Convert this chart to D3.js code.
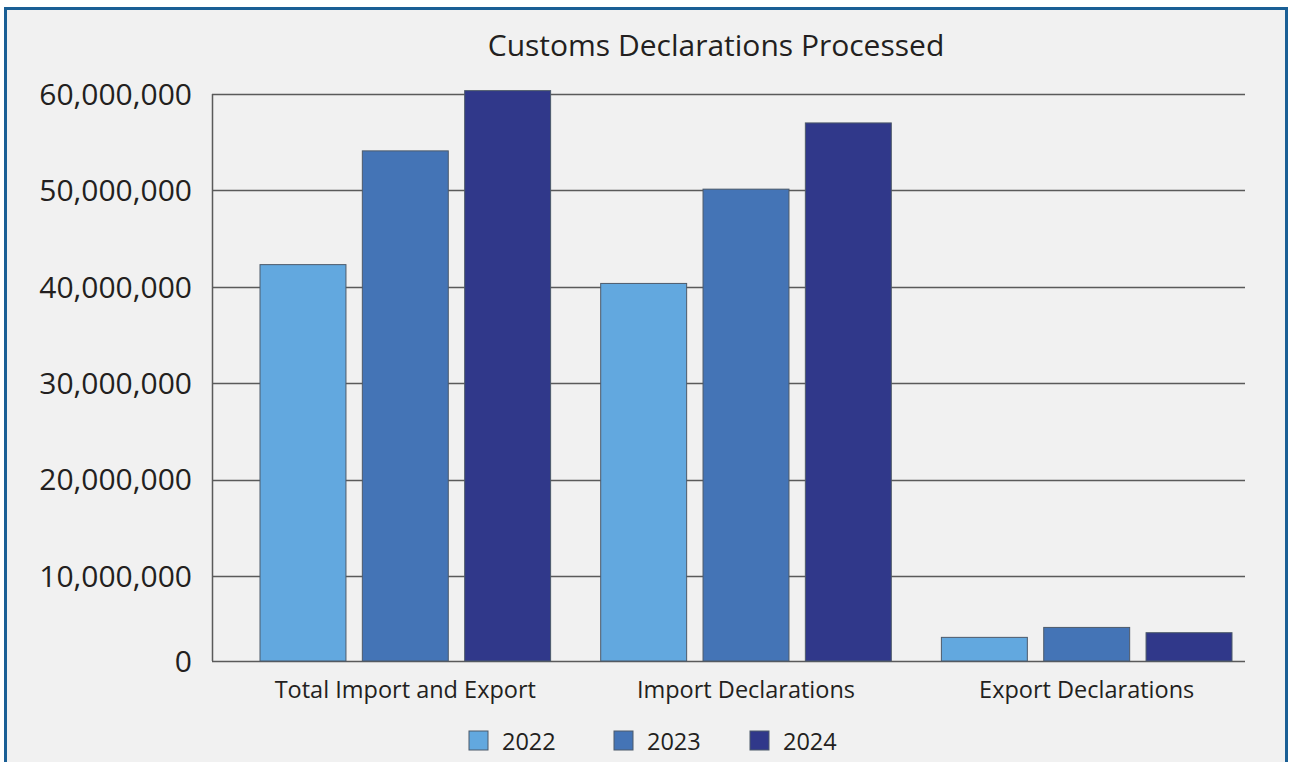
<!DOCTYPE html>
<html>
<head>
<meta charset="utf-8">
<script src="https://cdn.jsdelivr.net/npm/d3@7"></script>
<style>
  body { margin: 0; background: #fff; }
  text { font-family: "Open Sans", "Noto Sans", sans-serif; fill: #231f20; }
</style>
</head>
<body>
<div id="chart"></div>
<script>
// categories and series
var categories = ["Total Import and Export", "Import Declarations", "Export Declarations"];
var years = ["2022", "2023", "2024"];
var values2022 = [42300000, 40350000, 2780000];
var values2023 = [54100000, 50130000, 3950000];
var values2024 = [60350000, 57000000, 3330000];
var yTicks = [0, 10000000, 20000000, 30000000, 40000000, 50000000, 60000000];
var colors = ["#62a8df", "#4474b6", "#30388a"];

var series = [values2022, values2023, values2024];

var width = 1290, height = 762;
var margin = {top: 94, right: 45, bottom: 101, left: 212};

var svg = d3.select("#chart").append("svg")
    .attr("width", width)
    .attr("height", height);

// panel with blue frame
svg.append("rect")
    .attr("x", 5.5).attr("y", 8.5)
    .attr("width", 1281).attr("height", 770)
    .attr("fill", "#f1f1f1")
    .attr("stroke", "#1a5f95")
    .attr("stroke-width", 3);

svg.append("text")
    .attr("x", 716).attr("y", 56)
    .attr("text-anchor", "middle")
    .style("font-size", "30px")
    .text("Customs Declarations Processed");

// the original's first step (0 to 10M) is drawn shorter than the others
var y = d3.scaleLinear()
    .domain([0, 10000000, 60000000])
    .range([height - margin.bottom, 576, margin.top]);

var x0 = d3.scaleBand()
    .domain(categories)
    .range([260, 1232])
    .paddingInner(0.147)
    .paddingOuter(0);

var x1 = d3.scaleBand()
    .domain(years)
    .range([0, x0.bandwidth()])
    .paddingInner(0.16);

// gridlines
svg.append("g")
  .selectAll("line")
  .data(yTicks)
  .enter().append("line")
    .attr("x1", margin.left)
    .attr("x2", width - margin.right)
    .attr("y1", function(d) { return Math.round(y(d)) + 0.5; })
    .attr("y2", function(d) { return Math.round(y(d)) + 0.5; })
    .attr("stroke", "#5a5a5a")
    .attr("stroke-width", 1.5);

// left axis line
svg.append("line")
    .attr("x1", margin.left + 0.5).attr("x2", margin.left + 0.5)
    .attr("y1", y(60000000)).attr("y2", y(0))
    .attr("stroke", "#5a5a5a")
    .attr("stroke-width", 1.5);

// y tick labels
var fmt = d3.format(",");
svg.append("g")
  .selectAll("text")
  .data(yTicks)
  .enter().append("text")
    .attr("x", 192)
    .attr("y", function(d) { return y(d); })
    .attr("dy", "0.36em")
    .attr("text-anchor", "end")
    .style("font-size", "30px")
    .text(function(d) { return fmt(d); });

// bars
var groups = svg.append("g")
  .selectAll("g")
  .data(categories)
  .enter().append("g")
    .attr("transform", function(d) { return "translate(" + x0(d) + ",0)"; });

groups.selectAll("rect")
  .data(function(d, i) {
    return years.map(function(yr, j) { return {year: yr, value: series[j][i], color: colors[j]}; });
  })
  .enter().append("rect")
    .attr("x", function(d) { return x1(d.year); })
    .attr("y", function(d) { return y(d.value); })
    .attr("width", x1.bandwidth())
    .attr("height", function(d) { return y(0) - y(d.value); })
    .attr("fill", function(d) { return d.color; })
    .attr("stroke", "#4d5a6a")
    .attr("stroke-width", 1);

// category labels
svg.append("g")
  .selectAll("text")
  .data(categories)
  .enter().append("text")
    .attr("x", function(d) { return x0(d) + x0.bandwidth() / 2; })
    .attr("y", 698)
    .attr("text-anchor", "middle")
    .style("font-size", "23.5px")
    .text(function(d) { return d; });

// legend
var legendX = [469, 614, 750];
var legend = svg.append("g")
  .selectAll("g")
  .data(years)
  .enter().append("g")
    .attr("transform", function(d, i) { return "translate(" + legendX[i] + ",731)"; });

legend.append("rect")
    .attr("width", 19).attr("height", 19)
    .attr("fill", function(d, i) { return colors[i]; })
    .attr("stroke", "#4d5a6a")
    .attr("stroke-width", 1);

legend.append("text")
    .attr("x", 33)
    .attr("y", 19)
    .style("font-size", "23.5px")
    .text(function(d) { return d; });
</script>
</body>
</html>
